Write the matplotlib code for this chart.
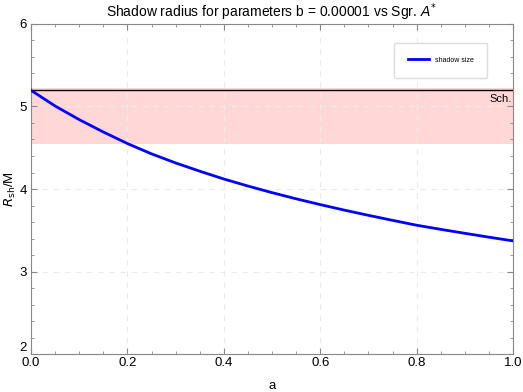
import numpy as np
import matplotlib.pyplot as plt
from matplotlib.ticker import MultipleLocator

plt.rcParams['font.family'] = ['Liberation Sans', 'DejaVu Sans']

# spin parameter a and shadow radius
a_vals = [0.0, 0.05, 0.1, 0.15, 0.2, 0.25, 0.3, 0.35, 0.4, 0.45, 0.5,
          0.55, 0.6, 0.65, 0.7, 0.75, 0.8, 0.85, 0.9, 0.95, 1.0]
r_sh = [5.196, 5.006, 4.841, 4.691, 4.551, 4.426, 4.316, 4.216, 4.121, 4.036, 3.956,
        3.881, 3.811, 3.744, 3.681, 3.620, 3.561, 3.511, 3.463, 3.416, 3.371]

r_sch = 5.196          # Schwarzschild shadow 3*sqrt(3)
sgr_band = (4.55, 5.22)  # Sgr A* bounds

fig = plt.figure(figsize=(5.23, 3.92), dpi=100)
ax = fig.add_axes([0.0593, 0.0969, 0.9217, 0.8419])

ax.axhspan(sgr_band[0], sgr_band[1], color='#ffd7d7', lw=0, zorder=0)
ax.axhline(r_sch, color='black', lw=1, zorder=2)
ax.plot(a_vals, r_sh, color='#0000ff', lw=2, label='shadow size', zorder=3)
ax.text(0.998, r_sch - 0.04, 'Sch.', ha='right', va='top', fontsize=8)

ax.set_xlim(0, 1)
ax.set_ylim(2, 6)
ax.set_xticks([0, 0.2, 0.4, 0.6, 0.8, 1.0])
ax.set_yticks([2, 3, 4, 5, 6])
ax.xaxis.set_minor_locator(MultipleLocator(0.05))
ax.yaxis.set_minor_locator(MultipleLocator(0.2))
ax.tick_params(which='both', direction='in', top=True, right=True, color='#888888',
               labelsize=9.5)
ax.tick_params(axis='x', pad=2)
ax.tick_params(axis='y', pad=3)
ax.tick_params(which='major', length=4)
ax.tick_params(which='minor', length=2)
for s in ax.spines.values():
    s.set_color('#888888')
ax.grid(True, which='major', color='#ebebeb', ls=(0, (5, 5)), lw=0.8)

# bottom y label sits just above the axis, as in the original
ax.yaxis.get_major_ticks()[0].label1.set_verticalalignment('bottom')

ax.set_xlabel('a', fontsize=9.5, labelpad=8)
ax.set_ylabel('$R_{\\mathrm{sh}}$/M', fontsize=9.5, labelpad=1)
ax.set_title('Shadow radius for parameters b = 0.00001 vs Sgr. $A^{*}$', fontsize=10, pad=5)

leg = ax.legend(loc='center', bbox_to_anchor=(0.85, 0.89), fontsize=5, handlelength=3,
                borderpad=2.0, borderaxespad=0, fancybox=True, framealpha=1)
leg.get_frame().set_edgecolor('#dddddd')

fig.savefig('out.png', dpi=100)
